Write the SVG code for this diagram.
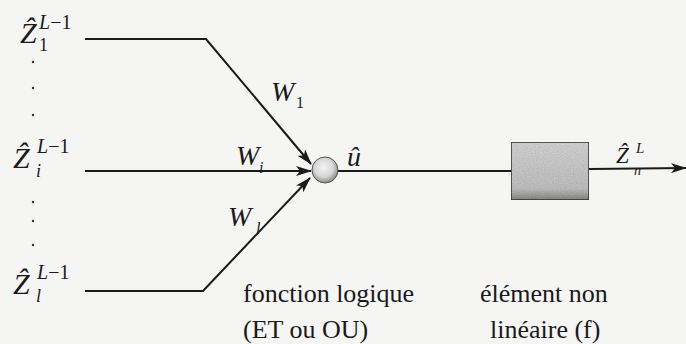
<svg xmlns="http://www.w3.org/2000/svg" width="686" height="344" viewBox="0 0 686 344">
  <defs>
    <marker id="arr" viewBox="0 0 16 10" refX="15" refY="5" markerWidth="16" markerHeight="10" markerUnits="userSpaceOnUse" orient="auto">
      <path d="M0,0 L16,5 L0,10 L4,5 Z" fill="#1a1a1a"/>
    </marker>
    <radialGradient id="ball" cx="45%" cy="40%" r="60%">
      <stop offset="0" stop-color="#f4f4f4"/>
      <stop offset="0.6" stop-color="#d6d6d6"/>
      <stop offset="1" stop-color="#8a8a8a"/>
    </radialGradient>
    <linearGradient id="boxg" x1="0" y1="0" x2="0" y2="1">
      <stop offset="0" stop-color="#dadada"/>
      <stop offset="0.8" stop-color="#c6c6c6"/>
      <stop offset="1" stop-color="#8a8a8a"/>
    </linearGradient>
    <filter id="grain" x="0" y="0" width="1" height="1">
      <feTurbulence type="fractalNoise" baseFrequency="0.9" numOctaves="2" seed="3" result="n"/>
      <feColorMatrix in="n" type="matrix" values="0 0 0 0 0  0 0 0 0 0  0 0 0 0 0  0 0 0 0.3 0" result="d"/>
      <feComposite in="d" in2="SourceGraphic" operator="in" result="dn"/>
      <feMerge><feMergeNode in="SourceGraphic"/><feMergeNode in="dn"/></feMerge>
    </filter>
  </defs>
  <style>
    .ln { fill: none; stroke: #1a1a1a; stroke-width: 2; }
    text { font-family: 'Liberation Serif', 'Times New Roman', 'DejaVu Serif', serif; fill: #1a1a1a; }
    .m { font-style: italic; }
    .t { font-size: 26px; }
    .dot { fill: #333; }
  </style>
  <rect width="686" height="344" fill="#f5f5f4"/>

  <g id="connectors">
    <path class="ln" d="M85,39 L206,39 L311,164" marker-end="url(#arr)"/>
    <path class="ln" d="M85,171 L311,171" marker-end="url(#arr)"/>
    <path class="ln" d="M85,291 L203,291 L310,178" marker-end="url(#arr)"/>
    <path class="ln" d="M338,171 L511,171"/>
    <path class="ln" d="M589,169 L686,168" marker-end="url(#arr)"/>
  </g>

  <g id="input1">
    <text class="m" x="20" y="43" font-size="30">Ẑ</text>
    <text x="39" y="29" font-size="20"><tspan font-style="italic">L</tspan>−1</text>
    <text x="39" y="51" font-size="18">1</text>
  </g>
  <g id="dots1">
    <circle class="dot" cx="33" cy="62" r="1.2"/>
    <circle class="dot" cx="33" cy="88" r="1.2"/>
    <circle class="dot" cx="33" cy="115" r="1.2"/>
  </g>
  <g id="inputi">
    <text class="m" x="13" y="168" font-size="30">Ẑ</text>
    <text x="37" y="153" font-size="20"><tspan font-style="italic">L</tspan>−1</text>
    <text class="m" x="36" y="177" font-size="18">i</text>
  </g>
  <g id="dots2">
    <circle class="dot" cx="33" cy="202" r="1.2"/>
    <circle class="dot" cx="33" cy="221" r="1.2"/>
    <circle class="dot" cx="33" cy="245" r="1.2"/>
  </g>
  <g id="inputl">
    <text class="m" x="13" y="294" font-size="30">Ẑ</text>
    <text x="37" y="279" font-size="20"><tspan font-style="italic">L</tspan>−1</text>
    <text class="m" x="36" y="302" font-size="18">l</text>
  </g>

  <g id="weights">
    <text class="m" x="271" y="101" font-size="28">W</text>
    <text x="296" y="108" font-size="16">1</text>
    <text class="m" x="236" y="165" font-size="28">W</text>
    <text class="m" x="259" y="173" font-size="16">i</text>
    <text class="m" x="228" y="226" font-size="28">W</text>
    <text class="m" x="256" y="234" font-size="16">l</text>
  </g>

  <g id="sum">
    <circle cx="325" cy="170" r="13" fill="url(#ball)" stroke="#555" stroke-width="1"/>
    <text class="m" x="347" y="166" font-size="28">û</text>
  </g>

  <g id="nonlinear">
    <rect x="511" y="142" width="78" height="58" fill="url(#boxg)" stroke="#333" stroke-width="1.5" filter="url(#grain)"/>
  </g>

  <g id="output">
    <text class="m" x="616" y="163" font-size="23">Ẑ</text>
    <text class="m" x="636" y="153" font-size="15">L</text>
    <text class="m" x="634" y="175" font-size="14">n</text>
  </g>

  <g id="labels">
    <text class="t" x="243" y="302">fonction logique</text>
    <text class="t" x="243" y="338">(ET ou OU)</text>
    <text class="t" x="480" y="302">élément non</text>
    <text class="t" x="490" y="338">linéaire (f)</text>
  </g>
</svg>
